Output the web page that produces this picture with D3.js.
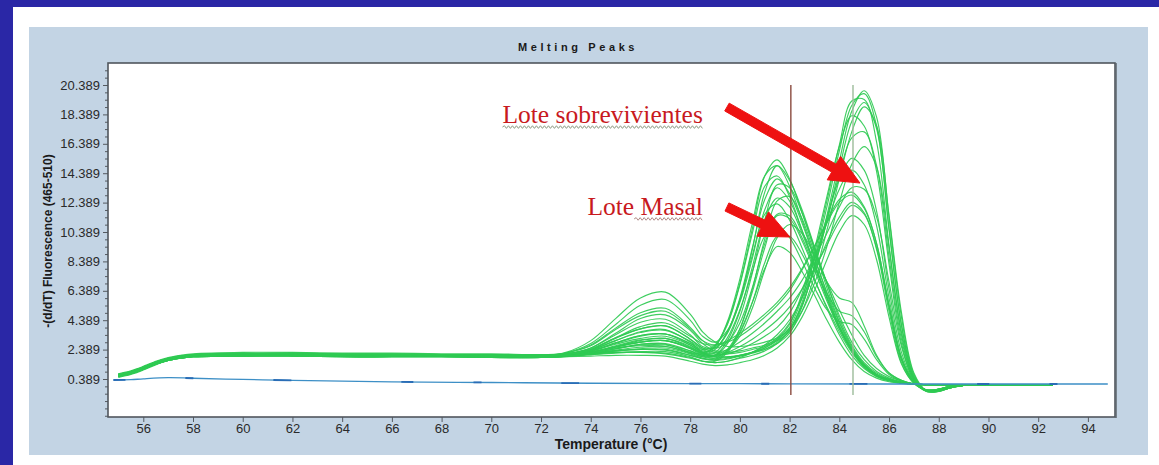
<!DOCTYPE html>
<html>
<head>
<meta charset="utf-8">
<script src="https://cdn.jsdelivr.net/npm/d3@7"></script>
<style>
  body { margin: 0; background: #ffffff; }
  svg { display: block; }
</style>
</head>
<body>
<svg id="chart" width="1159" height="465"></svg>
<script>
// Temperature grid (°C) shared by every melting curve
const temps = [55, 55.5, 56, 56.5, 57, 57.5, 58, 60, 62, 64, 66, 68, 70, 72,
  73, 74, 75, 76, 77, 78,
  78.5, 79, 79.5, 80, 80.5, 81, 81.5, 82, 82.5, 83, 83.5, 84, 84.5, 85, 85.5, 86, 86.5, 87, 87.5, 88, 88.5, 89,
  90, 92, 92.6];

// -(d/dT) fluorescence, samples with the lower melting peak (~81.5 °C)
const masalCurves = [
  [0.7,0.9,1.2,1.5,1.75,1.9,2.0,2.1,2.1,2.05,2.05,2.0,2.0,2.0, 2.05,2.3,2.85,3.35,3.45,2.8,
   2.4,2.7,4.2,6.9,10.6,14.2,15.3,14.0,11.7,9.2,6.6,4.3,2.6,1.4,0.7,0.35,0.15,0.05,0,0,0,0, 0,0,0],
  [0.6,0.8,1.1,1.45,1.7,1.85,1.95,2.0,2.05,2.0,2.0,1.95,1.95,1.9, 2.1,2.5,3.4,4.25,4.45,3.4,
   2.6,2.5,3.5,5.7,9.2,13.1,14.9,13.9,11.9,9.4,6.9,4.5,2.7,1.5,0.8,0.4,0.2,0.05,0,0,0,0, 0,0,0],
  [0.5,0.7,1.0,1.35,1.65,1.8,1.9,1.95,1.95,1.9,1.9,1.9,1.85,1.85, 1.9,2.1,2.45,2.75,2.75,2.2,
   2.1,2.6,4.1,6.8,10.3,13.5,14.2,12.8,10.5,8.2,5.9,3.8,2.3,1.2,0.6,0.3,0.12,0.04,0,0,0,0, 0,0,0],
  [0.65,0.85,1.15,1.5,1.75,1.9,2.0,2.05,2.1,2.05,2.0,2.0,2.0,1.95, 2.0,2.2,2.6,3.0,3.15,2.6,
   2.1,2.0,2.8,4.6,7.6,11.2,13.6,13.4,11.7,9.3,6.9,4.7,2.9,1.7,0.9,0.45,0.2,0.07,0,0,0,0, 0,0,0],
  [0.55,0.75,1.05,1.4,1.65,1.8,1.9,1.95,2.0,1.95,1.95,1.95,1.9,1.9, 2.15,2.8,4.1,5.4,5.8,4.4,
   3.3,2.9,3.7,5.6,8.6,11.9,13.4,12.5,10.5,8.3,6.0,4.0,2.4,1.3,0.7,0.35,0.15,0.05,0,0,0,0, 0,0,0],
  [0.7,0.9,1.2,1.55,1.8,1.95,2.05,2.15,2.15,2.1,2.1,2.05,2.05,2.0, 2.0,2.1,2.3,2.4,2.35,2.0,
   1.8,1.7,2.3,3.8,6.5,9.9,12.5,12.8,11.3,9.0,7.0,5.9,5.6,4.0,2.0,0.8,0.3,0.05,0,0,0,0, 0,0,0],
  [0.6,0.8,1.1,1.45,1.7,1.85,1.95,2.0,2.0,2.0,1.95,1.95,1.9,1.9, 2.0,2.35,3.0,3.6,3.75,2.9,
   2.3,2.4,3.6,5.8,8.8,11.6,12.3,11.2,9.3,7.2,5.2,3.4,2.0,1.1,0.55,0.25,0.1,0.03,0,0,0,0, 0,0,0],
  [0.75,0.95,1.25,1.6,1.85,2.0,2.1,2.2,2.2,2.15,2.15,2.1,2.1,2.05, 2.1,2.25,2.5,2.65,2.6,2.2,
   1.9,1.8,2.4,3.8,6.3,9.3,11.6,11.5,10.0,8.0,6.2,5.0,4.7,3.6,1.9,0.8,0.3,0.05,0,0,0,0, 0,0,0],
  [0.6,0.8,1.1,1.4,1.65,1.8,1.9,1.95,1.95,1.9,1.9,1.9,1.9,1.85, 2.05,2.5,3.5,4.5,4.75,3.7,
   2.8,2.3,2.4,3.3,5.2,7.8,10.0,10.9,10.3,8.8,7.0,5.1,3.4,2.0,1.1,0.55,0.25,0.08,0,0,0,0, 0,0,0],
  [0.65,0.85,1.15,1.5,1.75,1.9,2.0,2.05,2.05,2.0,2.0,2.0,1.95,1.95, 2.0,2.2,2.55,2.9,3.0,2.45,
   2.0,1.9,2.3,3.5,5.6,8.3,10.1,10.1,8.9,7.1,5.3,3.6,2.2,1.2,0.6,0.3,0.12,0.04,0,0,0,0, 0,0,0],
  [0.55,0.75,1.05,1.4,1.65,1.8,1.9,2.0,2.0,1.95,1.95,1.95,1.9,1.9, 1.95,2.05,2.2,2.2,2.1,1.8,
   1.6,1.6,2.2,3.6,5.6,7.9,9.4,9.0,7.7,6.1,4.4,2.9,1.7,0.9,0.45,0.2,0.08,0.02,0,0,0,0, 0,0,0],
  [0.62,0.82,1.12,1.47,1.72,1.87,1.97,2.02,2.02,1.98,1.98,1.97,1.93,1.92, 2.0,2.2,2.65,3.05,3.15,2.55,
   2.2,2.6,4.3,7.2,11.0,14.2,14.9,13.5,11.2,8.7,6.2,4.0,2.4,1.3,0.65,0.3,0.12,0.04,0,0,0,0, 0,0,0],
  [0.68,0.88,1.18,1.52,1.77,1.92,2.02,2.08,2.08,2.03,2.03,2.02,1.98,1.97, 2.1,2.4,3.15,3.8,4.0,3.1,
   2.5,2.5,3.6,5.9,9.3,12.6,14.0,13.0,11.0,8.6,6.3,4.2,2.5,1.4,0.7,0.35,0.15,0.05,0,0,0,0, 0,0,0],
  [0.58,0.78,1.08,1.43,1.68,1.83,1.93,1.98,1.98,1.95,1.95,1.94,1.9,1.9, 1.95,2.1,2.35,2.55,2.6,2.15,
   1.9,2.0,3.0,5.0,8.0,11.2,12.7,12.1,10.3,8.1,5.9,3.9,2.4,1.3,0.65,0.3,0.12,0.04,0,0,0,0, 0,0,0],
  [0.64,0.84,1.14,1.48,1.73,1.88,1.98,2.04,2.04,2.0,2.0,1.99,1.96,1.95, 2.15,2.7,3.85,4.9,5.2,3.9,
   3.0,2.5,2.9,4.2,6.6,9.6,11.5,11.3,9.8,7.8,5.7,3.8,2.3,1.3,0.65,0.3,0.12,0.04,0,0,0,0, 0,0,0],
  [0.66,0.86,1.16,1.5,1.75,1.9,2.0,2.06,2.06,2.02,2.02,2.0,1.98,1.96, 2.0,2.3,2.85,3.35,3.45,2.7,
   2.2,2.2,3.2,5.1,7.7,10.1,10.8,10.0,8.4,6.6,5.1,4.3,4.1,3.1,1.7,0.7,0.25,0.05,0,0,0,0, 0,0,0]
];

// -(d/dT) fluorescence, samples with the higher melting peak (~84.8 °C)
const sobrevivientesCurves = [
  [0.65,0.85,1.15,1.5,1.75,1.9,2.0,2.05,2.05,2.0,2.0,2.0,1.95,1.95, 2.0,2.2,2.55,2.9,3.0,2.5,
   2.1,1.9,1.9,2.0,2.2,2.4,2.8,3.5,5.3,8.1,11.5,15.2,18.6,20.0,18.2,11.4,4.6,0.7,-0.4,-0.45,-0.2,-0.05, 0,0,0],
  [0.6,0.8,1.1,1.45,1.7,1.85,1.95,2.0,2.0,1.95,1.95,1.95,1.9,1.9, 1.95,2.1,2.3,2.45,2.5,2.1,
   1.8,1.7,1.8,2.0,2.2,2.5,3.0,3.9,5.9,8.9,12.5,16.3,19.3,19.4,16.5,9.5,3.4,0.4,-0.45,-0.45,-0.2,-0.05, 0,0,0],
  [0.7,0.9,1.2,1.55,1.8,1.95,2.05,2.1,2.1,2.05,2.05,2.05,2.0,2.0, 2.1,2.4,3.2,3.8,4.0,3.1,
   2.5,2.2,2.2,2.3,2.5,2.7,3.1,3.8,5.4,8.0,11.2,14.7,17.9,19.2,17.4,10.6,4.1,0.6,-0.4,-0.4,-0.2,-0.05, 0,0,0],
  [0.55,0.75,1.05,1.4,1.65,1.8,1.9,1.95,1.95,1.9,1.9,1.9,1.85,1.85, 1.95,2.25,2.8,3.3,3.45,2.8,
   2.2,1.9,1.9,2.0,2.2,2.5,3.1,4.1,6.2,9.2,12.8,16.2,18.3,17.6,14.5,8.2,2.8,0.3,-0.45,-0.4,-0.15,-0.05, 0,0,0],
  [0.65,0.85,1.15,1.5,1.75,1.9,2.0,2.1,2.1,2.05,2.05,2.0,2.0,2.0, 2.0,2.1,2.2,2.2,2.15,1.85,
   1.6,1.5,1.6,1.8,2.0,2.3,2.8,3.7,5.4,8.0,11.1,14.3,16.8,17.2,14.9,8.7,3.1,0.4,-0.4,-0.4,-0.15,-0.05, 0,0,0],
  [0.6,0.8,1.1,1.45,1.7,1.85,1.95,2.0,2.0,2.0,2.0,1.95,1.95,1.95, 2.2,3.0,4.5,5.9,6.3,4.8,
   3.6,2.9,2.6,2.6,2.7,2.9,3.2,3.8,5.0,6.9,9.4,12.4,15.0,16.2,14.8,9.3,3.6,0.5,-0.4,-0.4,-0.2,-0.05, 0,0,0],
  [0.7,0.9,1.2,1.55,1.8,1.95,2.05,2.1,2.15,2.1,2.1,2.05,2.05,2.0, 2.05,2.3,2.75,3.15,3.3,2.7,
   2.2,2.0,2.1,2.4,2.8,3.3,3.9,4.9,6.5,8.6,11.0,13.3,14.6,13.6,10.8,5.9,1.9,0.2,-0.4,-0.35,-0.15,-0.05, 0,0,0],
  [0.6,0.8,1.1,1.45,1.7,1.85,1.95,2.0,2.0,1.95,1.95,1.95,1.9,1.9, 1.95,2.15,2.45,2.7,2.7,2.3,
   2.0,2.0,2.4,2.9,3.5,4.2,5.0,5.9,7.1,8.6,10.3,12.1,13.4,13.3,11.4,7.0,2.6,0.3,-0.4,-0.35,-0.15,-0.05, 0,0,0],
  [0.65,0.85,1.15,1.5,1.75,1.9,2.0,2.05,2.05,2.05,2.0,2.0,2.0,1.95, 2.1,2.45,3.2,3.95,4.2,3.3,
   2.8,2.7,3.0,3.5,4.1,4.8,5.6,6.6,7.9,9.4,11.0,12.4,12.9,12.0,9.6,5.4,1.8,0.2,-0.35,-0.3,-0.1,-0.05, 0,0,0],
  [0.7,0.9,1.2,1.55,1.8,1.95,2.05,2.1,2.1,2.05,2.05,2.0,2.0,2.0, 2.0,2.2,2.6,2.9,3.0,2.5,
   2.1,2.0,2.2,2.6,3.1,3.7,4.4,5.3,6.5,7.9,9.5,11.1,12.2,11.6,9.3,5.3,1.7,0.15,-0.35,-0.3,-0.1,-0.05, 0,0,0],
  [0.55,0.75,1.05,1.4,1.65,1.8,1.9,1.95,1.95,1.9,1.9,1.9,1.85,1.85, 1.9,1.95,2.0,2.0,1.95,1.6,
   1.4,1.3,1.35,1.5,1.7,2.0,2.5,3.3,4.6,6.4,8.5,10.4,11.5,10.9,8.5,4.6,1.4,0.1,-0.35,-0.3,-0.1,-0.05, 0,0,0],
  [0.63,0.83,1.13,1.48,1.73,1.88,1.98,2.03,2.03,1.99,1.99,1.98,1.94,1.93, 1.98,2.15,2.45,2.75,2.8,2.3,
   1.95,1.8,1.85,1.95,2.15,2.4,2.9,3.7,5.6,8.6,12.1,15.9,19.0,19.8,17.6,10.6,4.0,0.5,-0.45,-0.45,-0.2,-0.05, 0,0,0],
  [0.67,0.87,1.17,1.52,1.77,1.92,2.02,2.07,2.07,2.03,2.03,2.02,1.98,1.97, 2.05,2.35,3.0,3.55,3.7,2.95,
   2.4,2.1,2.1,2.2,2.4,2.6,3.0,3.6,5.0,7.4,10.5,14.0,17.2,18.9,17.6,11.5,4.9,0.8,-0.4,-0.45,-0.2,-0.05, 0,0,0],
  [0.6,0.8,1.1,1.45,1.7,1.85,1.95,2.0,2.0,1.97,1.97,1.96,1.92,1.92, 1.96,2.1,2.3,2.4,2.4,2.0,
   1.75,1.65,1.75,1.95,2.2,2.6,3.2,4.2,6.0,8.5,11.4,14.0,15.4,14.6,11.8,6.5,2.2,0.25,-0.4,-0.4,-0.15,-0.05, 0,0,0],
  [0.62,0.82,1.12,1.47,1.72,1.87,1.97,2.02,2.02,1.98,1.98,1.97,1.94,1.93, 2.15,2.65,3.75,4.7,5.0,3.8,
   3.0,2.7,2.9,3.3,3.9,4.6,5.4,6.4,7.8,9.4,11.1,12.6,13.1,12.1,9.6,5.4,1.7,0.15,-0.35,-0.3,-0.1,-0.05, 0,0,0],
  [0.7,0.9,1.2,1.54,1.79,1.94,2.04,2.1,2.1,2.06,2.05,2.04,2.0,2.0, 1.98,2.05,2.15,2.25,2.25,1.9,
   1.6,1.5,1.6,1.85,2.2,2.7,3.4,4.4,5.9,7.7,9.7,11.4,12.4,11.7,9.2,5.0,1.5,0.1,-0.35,-0.3,-0.1,-0.05, 0,0,0]
];

// Negative control trace
const controlTemps  = [54.8, 55.5, 56, 57, 58, 60, 62, 64, 66, 70, 74, 80, 86, 90, 94.8];
const controlValues = [0.32, 0.34, 0.4, 0.48, 0.44, 0.36, 0.3, 0.25, 0.2, 0.15, 0.1, 0.07, 0.05, 0.05, 0.05];

// Axis ticks
const xTicks = [56, 58, 60, 62, 64, 66, 68, 70, 72, 74, 76, 78, 80, 82, 84, 86, 88, 90, 92, 94];
const yTicks = [0.389, 2.389, 4.389, 6.389, 8.389, 10.389, 12.389, 14.389, 16.389, 18.389, 20.389];

// Melting temperature cursors (°C)
const cursorTemps = [82.05, 84.55];

// Annotations: label, arrow tail and tip in data units
const annotationLabels = ["Lote sobrevivientes", "Lote Masal"];
const labelAnchors = [[78.51, 17.8], [78.51, 11.55]];
const arrowTails = [[79.48, 18.89], [79.48, 12.09]];
const arrowTips  = [[84.83, 13.72], [82.01, 10.05]];

const svg = d3.select("#chart");
const W = 1159, H = 465;
const plot = { left: 108, top: 63, right: 1115, bottom: 417 };

// Backgrounds: slide frame, page, chart panel, plot area
svg.append("rect").attr("width", W).attr("height", H).attr("fill", "#2a27a6");
svg.append("rect").attr("x", 13).attr("y", 7).attr("width", W - 13).attr("height", H - 7).attr("fill", "#ffffff");
svg.append("rect").attr("x", 29).attr("y", 27).attr("width", 1119).attr("height", 428).attr("fill", "#c3d4e4");
svg.append("rect").attr("x", plot.left).attr("y", plot.top)
  .attr("width", plot.right - plot.left).attr("height", plot.bottom - plot.top).attr("fill", "#ffffff");

const x = d3.scaleLinear().domain([54.58, 95.09]).range([plot.left, plot.right]);
const y = d3.scaleLinear().domain([-2.196, 21.886]).range([plot.bottom, plot.top]);

svg.append("defs").append("clipPath").attr("id", "plotClip")
  .append("rect").attr("x", plot.left).attr("y", plot.top)
  .attr("width", plot.right - plot.left).attr("height", plot.bottom - plot.top);

const line = d3.line()
  .x(d => x(d[0]))
  .y(d => y(d[1]))
  .curve(d3.curveCatmullRom.alpha(0.5));

const traces = svg.append("g").attr("clip-path", "url(#plotClip)");

// Melting curves
const allCurves = masalCurves.concat(sobrevivientesCurves);
traces.selectAll("path.melt")
  .data(allCurves)
  .join("path")
  .attr("class", "melt")
  .attr("d", vals => line(vals.map((v, i) => [temps[i], v])))
  .attr("fill", "none")
  .attr("stroke", "#2fca52")
  .attr("stroke-width", 1.15)
  .attr("stroke-opacity", 0.92);

// Control trace
const controlPath = line(controlTemps.map((t, i) => [t, controlValues[i]]));
traces.append("path")
  .attr("d", controlPath)
  .attr("fill", "none")
  .attr("stroke", "#3d8fc6")
  .attr("stroke-width", 1.3);
traces.append("path")
  .attr("d", controlPath)
  .attr("fill", "none")
  .attr("stroke", "#2a6db6")
  .attr("stroke-width", 1.8)
  .attr("stroke-dasharray", "12 60 8 80 18 110");

// Tm cursors
const cursorColors = ["#8a4a3e", "#9cbb9a"];
traces.selectAll("line.cursor")
  .data(cursorTemps)
  .join("line")
  .attr("class", "cursor")
  .attr("x1", d => x(d)).attr("x2", d => x(d))
  .attr("y1", y(20.389)).attr("y2", y(-0.7))
  .attr("stroke", (d, i) => cursorColors[i])
  .attr("stroke-width", 1.4);

// Axes
const tickFont = "'Liberation Sans', Arial, sans-serif";
const yAxis = d3.axisLeft(y).tickValues(yTicks).tickSize(5).tickPadding(3)
  .tickFormat(d3.format(".3f"));
const yMinor = d3.axisLeft(y)
  .tickValues(d3.range(-2.111, 21.8, 0.5).filter(v => !yTicks.some(t => Math.abs(t - v) < 1e-6)))
  .tickSize(3).tickFormat("");
const xAxis = d3.axisBottom(x).tickValues(xTicks).tickSize(5).tickPadding(2)
  .tickFormat(d3.format("d"));

const gy = svg.append("g").attr("transform", `translate(${plot.left},0)`).call(yAxis);
const gym = svg.append("g").attr("transform", `translate(${plot.left},0)`).call(yMinor);
const gx = svg.append("g").attr("transform", `translate(0,${plot.bottom})`).call(xAxis);
[gy, gym, gx].forEach(g => {
  g.select(".domain").remove();
  g.selectAll("line").attr("stroke", "#555a60");
  g.selectAll("text")
    .attr("fill", "#2a2a2a")
    .style("font-family", tickFont)
    .style("font-size", "13px");
});

// Plot frame
svg.append("rect")
  .attr("x", plot.left).attr("y", plot.top)
  .attr("width", plot.right - plot.left).attr("height", plot.bottom - plot.top)
  .attr("fill", "none").attr("stroke", "#50565d").attr("stroke-width", 1.6);
svg.append("line")
  .attr("x1", plot.right + 1).attr("x2", plot.right + 1)
  .attr("y1", plot.top).attr("y2", plot.bottom + 1)
  .attr("stroke", "#5d646b").attr("stroke-width", 1.5);

// Titles
svg.append("text")
  .attr("x", 578).attr("y", 51)
  .attr("text-anchor", "middle")
  .style("font-family", tickFont)
  .style("font-size", "11px").style("font-weight", "bold")
  .style("letter-spacing", "3.6px")
  .attr("fill", "#1a1a1a")
  .text("Melting Peaks");

svg.append("text")
  .attr("x", 611).attr("y", 449)
  .attr("text-anchor", "middle")
  .style("font-family", tickFont)
  .style("font-size", "14px").style("font-weight", "bold")
  .attr("fill", "#1a1a1a")
  .text("Temperature (°C)");

svg.append("text")
  .attr("transform", "translate(52,241) rotate(-90)")
  .attr("text-anchor", "middle")
  .style("font-family", tickFont)
  .style("font-size", "12px").style("font-weight", "bold")
  .attr("fill", "#1a1a1a")
  .text("-(d/dT) Fluorescence (465-510)");

// Annotations
const noteFont = "'Liberation Serif', 'Times New Roman', serif";
const noteSize = "25.5px";
const notes = svg.append("g");
function squiggle(x0, x1, yy) {
  let d = `M${x0},${yy}`;
  let up = true;
  for (let xx = x0 + 2; xx <= x1; xx += 2) {
    d += `L${xx},${yy + (up ? -1.3 : 1.3)}`;
    up = !up;
  }
  return d;
}
annotationLabels.forEach((label, i) => {
  const t = notes.append("text")
    .attr("x", x(labelAnchors[i][0])).attr("y", y(labelAnchors[i][1]))
    .attr("text-anchor", "end")
    .style("font-family", noteFont)
    .style("font-size", noteSize)
    .attr("fill", "#c81a1e")
    .text(label);
  const bb = t.node().getBBox();
  const words = label.split(" ");
  // spell-check style wavy underline
  let sx0 = bb.x;
  if (i === 1) {
    const first = notes.append("text")
      .style("font-family", noteFont)
      .style("font-size", noteSize).text(words[0] + " ");
    sx0 = bb.x + first.node().getComputedTextLength();
    first.remove();
  }
  notes.append("path")
    .attr("d", squiggle(sx0, bb.x + bb.width, y(labelAnchors[i][1]) + 4))
    .attr("fill", "none")
    .attr("stroke", i === 0 ? "#8f9c86" : "#b08a86")
    .attr("stroke-width", 1);
});

function arrowPoints(x0, y0, x1, y1, shaftW, headL, headW) {
  const dx = x1 - x0, dy = y1 - y0, L = Math.hypot(dx, dy);
  const ux = dx / L, uy = dy / L, px = -uy, py = ux;
  const bx = x1 - ux * headL, by = y1 - uy * headL;
  return [
    [x0 + px * shaftW / 2, y0 + py * shaftW / 2],
    [bx + px * shaftW / 2, by + py * shaftW / 2],
    [bx + px * headW / 2, by + py * headW / 2],
    [x1, y1],
    [bx - px * headW / 2, by - py * headW / 2],
    [bx - px * shaftW / 2, by - py * shaftW / 2],
    [x0 - px * shaftW / 2, y0 - py * shaftW / 2]
  ].map(p => p.join(",")).join(" ");
}
arrowTails.forEach((tail, i) => {
  notes.append("polygon")
    .attr("points", arrowPoints(x(tail[0]), y(tail[1]), x(arrowTips[i][0]), y(arrowTips[i][1]), 9, 30, 27))
    .attr("fill", "#ee1111")
    .attr("stroke", "#ee1111")
    .attr("stroke-width", 1)
    .attr("stroke-linejoin", "round");
});
</script>
</body>
</html>
